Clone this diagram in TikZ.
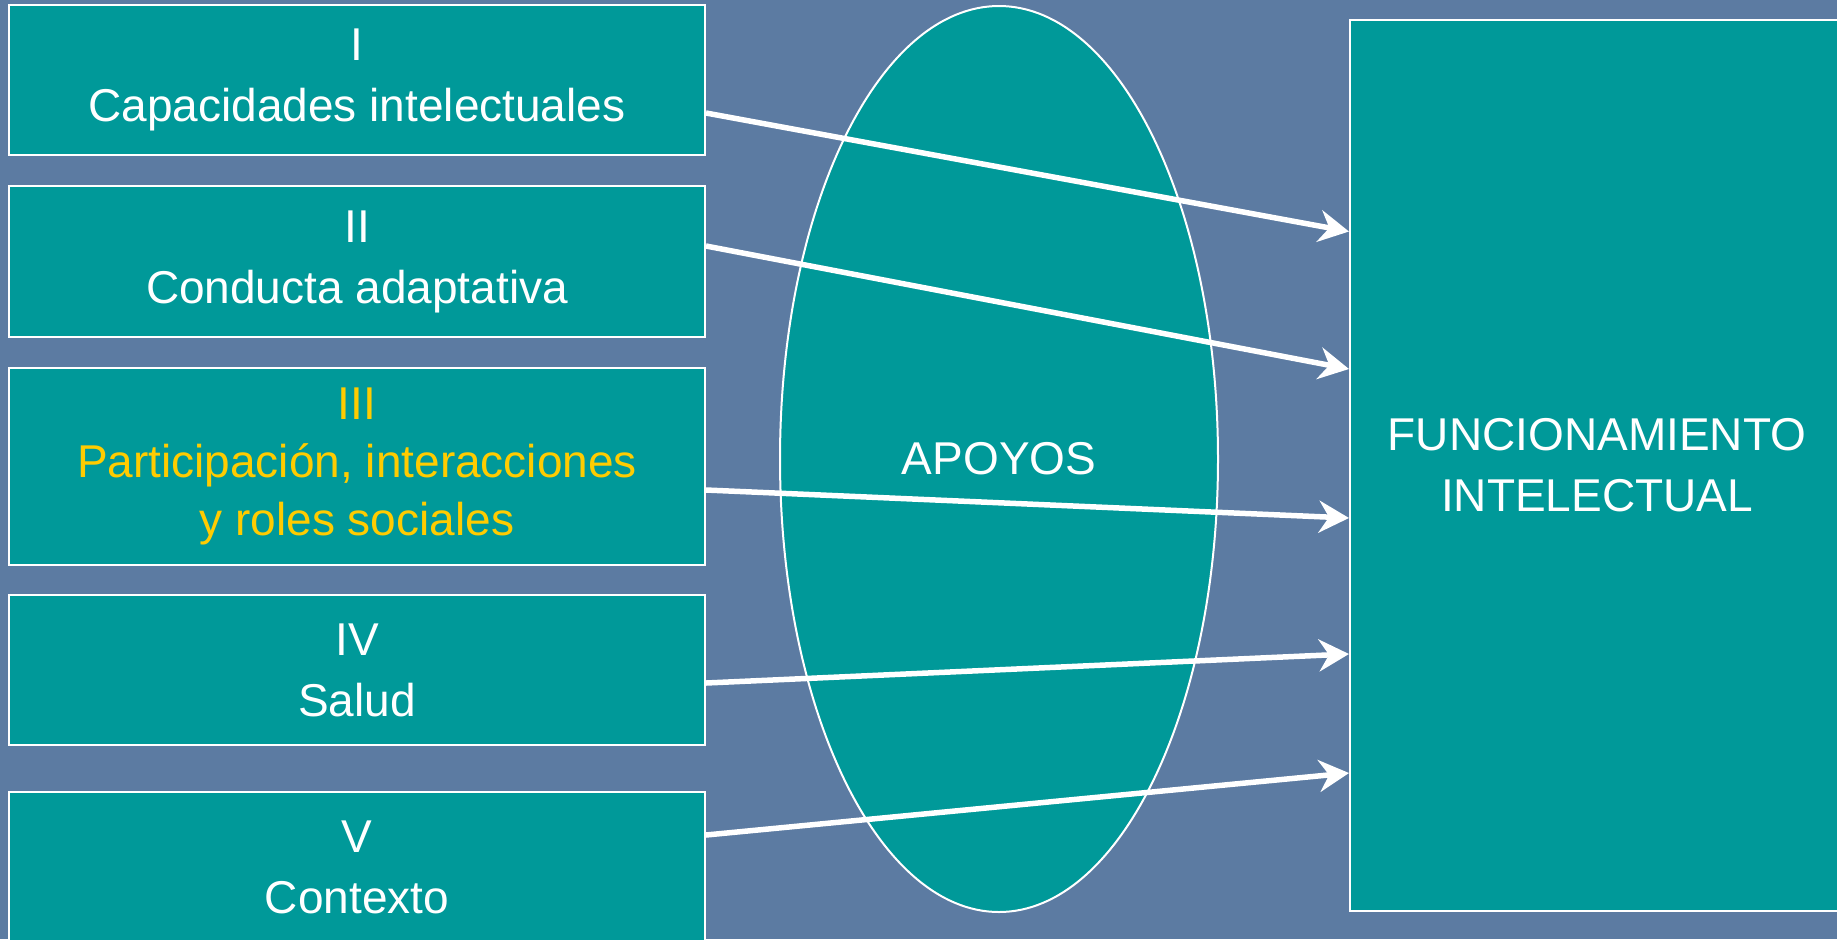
\documentclass[tikz,border=0pt]{standalone}
\usepackage{fontspec}
\setmainfont{Liberation Sans}
\usetikzlibrary{shapes.geometric,arrows.meta}
\definecolor{fondoazul}{RGB}{92,123,162}
\definecolor{apoyoteal}{RGB}{0,153,153}
\definecolor{tituloamarillo}{RGB}{255,204,0}

\begin{document}
\begin{tikzpicture}[x=0.5pt,y=-0.5pt,
    factorbox/.style={draw=white, line width=1pt, fill=apoyoteal, text=white,
      minimum width=348pt, align=center, inner sep=0pt,
      font=\fontsize{23}{30.5}\selectfont},
    flecha/.style={white, line width=2.75pt,
      -{Stealth[length=15pt,width=16pt,inset=5pt]}}]
    % Background
    \fill[fondoazul] (0,0) rectangle (1837,939);
    \useasboundingbox (0,0) rectangle (1837,939);

    % Factors
    \node[factorbox, minimum height=75pt] (capI) at (357,80) {I\\Capacidades intelectuales};
    \node[factorbox, minimum height=75.5pt] (capII) at (357,261.5) {II\\Conducta adaptativa};
    \node[factorbox, minimum height=98.5pt, text=tituloamarillo,
      font=\fontsize{23}{29}\selectfont] (capIII) at (357,466.5)
      {III\\Participación, interacciones\\y roles sociales};
    \node[factorbox, minimum height=75pt] (capIV) at (357,670) {IV\\Salud};
    \node[factorbox, minimum height=75pt] (capV) at (357,867) {V\\Contexto};

    % Supports
    \node[factorbox, ellipse, minimum width=219pt, minimum height=453pt] (apoyos) at (999,459) {APOYOS};

    % Result
    \node[factorbox, minimum width=247pt, minimum height=445.5pt] (funcion) at (1597,465.5)
      {FUNCIONAMIENTO\\INTELECTUAL};

    % Arrows
    \draw[flecha] ([yshift=-16.5pt]capI.east) -- ([yshift=117pt]funcion.west);
    \draw[flecha] ([yshift=7.75pt]capII.east) -- ([yshift=48.25pt]funcion.west);
    \draw[flecha] ([yshift=-11.75pt]capIII.east) -- ([yshift=-26.25pt]funcion.west);
    \draw[flecha] ([yshift=-6.5pt]capIV.east) -- ([yshift=-94.25pt]funcion.west);
    \draw[flecha] ([yshift=16pt]capV.east) -- ([yshift=-153.75pt]funcion.west);
\end{tikzpicture}
\end{document}
